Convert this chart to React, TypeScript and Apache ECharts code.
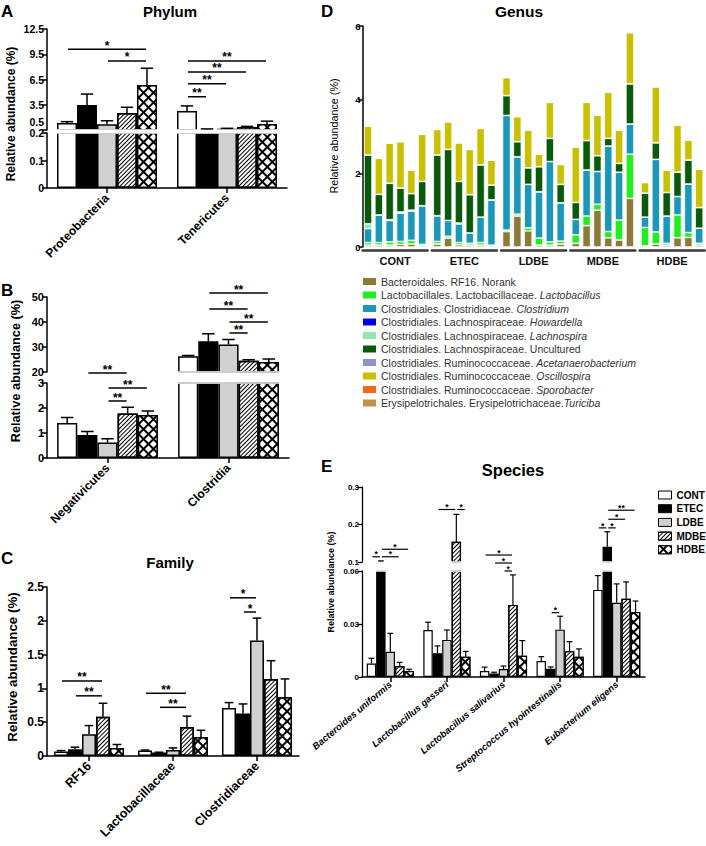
import React, { useEffect, useRef } from 'react';
import * as echarts from 'echarts';

const FONT = '"Liberation Sans", Arial, Helvetica, sans-serif';
const groups = ['CONT', 'ETEC', 'LDBE', 'MDBE', 'HDBE'];

// ---------- A: Phylum (rows = groups)
const phylumCats = ['Proteobacteria', 'Tenericutes'];
const phylumMean = [[1.33, 2.76], [3.47, 0.58], [1.17, 0.65], [2.52, 0.85], [5.84, 1.2]];
const phylumErr = [[0.16, 0.6], [1.3, 0.05], [0.43, 0.05], [0.68, 0.08], [2.0, 0.35]];
const phylumSig: any[] = [[0, 0, 4, 10.1, '*'], [0, 2, 4, 8.7, '*'], [1, 0, 4, 8.7, '**'], [1, 0, 3, 7.4, '**'], [1, 0, 2, 6.0, '**'], [1, 0, 1, 4.45, '**']];
const phylumTicksUp = [0.5, 3.5, 6.5, 9.5, 12.5];

// ---------- B: Class
const classCats = ['Negativicutes', 'Clostridia'];
const classMean = [[1.4, 26.3], [0.92, 32.3], [0.62, 31.0], [1.78, 24.5], [1.72, 24.0]];
const classErr = [[0.22, 0.3], [0.14, 3.0], [0.15, 2.0], [0.25, 0.4], [0.16, 1.2]];
const classSigLow: any[] = [[0, 1, 3, 3.4, '**'], [0, 2, 4, 2.8, '**'], [0, 2, 3, 2.28, '**']];
const classSigHigh: any[] = [[1, 1, 4, 51.6, '**'], [1, 1, 3, 45.2, '**'], [1, 2, 4, 40, '**'], [1, 2, 3, 35.6, '**']];

// ---------- C: Family
const familyCats = ['RF16', 'Lactobacillaceae', 'Clostridiaceae'];
const familyMean = [[0.065, 0.08, 0.71], [0.1, 0.05, 0.63], [0.32, 0.09, 1.71], [0.58, 0.43, 1.14], [0.12, 0.28, 0.87]];
const familyErr = [[0.015, 0.008, 0.08], [0.03, 0.006, 0.14], [0.13, 0.03, 0.33], [0.2, 0.16, 0.27], [0.05, 0.1, 0.27]];
const familySig: any[] = [[0, 0, 3, 1.11, '**'], [0, 1, 3, 0.89, '**'], [1, 0, 3, 0.93, '**'], [1, 1, 3, 0.72, '**'], [2, 0, 2, 2.34, '*'], [2, 1, 2, 2.13, '*']];

// ---------- D: Genus (30 samples, 6 per group)
const genusNames = [
  'Bacteroidales. RF16. Norank',
  'Lactobacillales. Lactobacillaceae. Lactobacillus',
  'Clostridiales. Clostridiaceae. Clostridium',
  'Clostridiales. Lachnospiraceae. Howardella',
  'Clostridiales. Lachnospiraceae. Lachnospira',
  'Clostridiales. Lachnospiraceae. Uncultured',
  'Clostridiales. Ruminococcaceae. Acetanaerobacterium',
  'Clostridiales. Ruminococcaceae. Oscillospira',
  'Clostridiales. Ruminococcaceae. Sporobacter',
  'Erysipelotrichales. Erysipelotrichaceae.Turiciba',
];
const genusColors = ['#8c7a38', '#1ef01e', '#1b97b8', '#0000ee', '#8fe8b2', '#0b5a0b', '#8c92cc', '#c8c000', '#ff6318', '#c0914f'];
const rf16Norank = [0.05, 0.05, 0.05, 0.07, 0.08, 0.03, 0.08, 0.24, 0.06, 0.05, 0.05, 0.03, 0.42, 0.84, 0.44, 0.05, 0.05, 0.08, 0.1, 0.58, 1.0, 0.25, 0.19, 1.32, 0.03, 0.08, 0.05, 0.25, 0.26, 0.05];
const lactobacillus = [0.07, 0.07, 0.09, 0.08, 0.1, 0.04, 0.07, 0.05, 0.06, 0.05, 0.07, 0.02, 0.04, 0.05, 0.08, 0.19, 0.09, 0.08, 0.23, 0.26, 0.16, 0.17, 0.54, 1.2, 0.5, 0.33, 0.05, 0.62, 0.13, 0.05];
const clostridium = [0.38, 0.75, 0.58, 0.77, 0.8, 1.05, 0.7, 0.43, 0.51, 0.28, 0.69, 1.23, 3.11, 1.56, 1.18, 1.26, 2.18, 1.04, 0.42, 1.25, 0.89, 2.32, 1.3, 0.82, 0.28, 1.97, 0.74, 0.5, 1.32, 0.41];
const howardella = [0, 0, 0, 0, 0, 0, 0, 0, 0, 0, 0, 0, 0, 0, 0, 0, 0, 0, 0, 0, 0, 0, 0, 0, 0, 0, 0, 0, 0, 0];
const lachnospira = [0.13, 0, 0.02, 0.03, 0.02, 0, 0, 0, 0.02, 0, 0, 0, 0, 0, 0, 0, 0, 0, 0, 0, 0, 0, 0, 0, 0, 0, 0, 0, 0, 0];
const lachnoUncultured = [1.87, 0.56, 0.99, 0.65, 0.45, 0.66, 1.65, 1.93, 1.13, 1.04, 1.42, 0.4, 0.54, 0.41, 0.45, 0.68, 0.63, 0.5, 0.46, 0.8, 0.43, 0.21, 0.24, 1.09, 0.65, 0.45, 0.64, 0.66, 0.65, 0.56];
const acetanaerobacterium = [0, 0, 0, 0, 0, 0, 0, 0, 0, 0, 0, 0, 0, 0, 0, 0, 0, 0, 0, 0, 0, 0, 0, 0, 0, 0, 0, 0, 0, 0];
const oscillospira = [0.78, 0.98, 1.09, 1.26, 0.64, 1.28, 0.69, 0.75, 1.05, 1.23, 0.99, 0.68, 0.49, 0.68, 1.03, 0.34, 0.98, 0.54, 1.51, 1.04, 1.1, 1.25, 0.91, 1.39, 0.29, 1.52, 0.61, 1.28, 0.54, 1.05];
const sporobacter = [0, 0, 0, 0, 0, 0, 0, 0, 0, 0, 0, 0, 0, 0, 0, 0, 0, 0, 0, 0, 0, 0, 0, 0, 0, 0, 0, 0, 0, 0];
const turiciba = [0, 0, 0, 0, 0, 0, 0, 0, 0, 0, 0, 0, 0, 0, 0, 0, 0, 0, 0, 0, 0, 0, 0, 0, 0, 0, 0, 0, 0, 0];
const genusData = [rf16Norank, lactobacillus, clostridium, howardella, lachnospira, lachnoUncultured, acetanaerobacterium, oscillospira, sporobacter, turiciba];
const genusTicks = [0, 2, 4, 6];

// ---------- E: Species
const speciesCats = ['Bacteroides uniformis', 'Lactobacillus gasseri', 'Lactobacillus salivarius', 'Streptococcus hyointestinalis', 'Eubacterium eligens'];
const speciesMean = [
  [0.0076, 0.0266, 0.0034, 0.009, 0.0493],
  [0.085, 0.0134, 0.002, 0.0046, 0.1406],
  [0.0143, 0.021, 0.0045, 0.0268, 0.042],
  [0.0062, 0.154, 0.0408, 0.0147, 0.0443],
  [0.0034, 0.0115, 0.012, 0.0115, 0.0368],
];
const speciesErr = [
  [0.003, 0.0044, 0.0022, 0.0025, 0.0081],
  [0.018, 0.0042, 0.0007, 0.0011, 0.04],
  [0.0104, 0.0056, 0.0017, 0.0076, 0.0107],
  [0.0021, 0.073, 0.017, 0.0053, 0.0095],
  [0.001, 0.003, 0.0086, 0.0044, 0.0062],
];
const speciesSigHigh: any[] = [
  [0, 0, 1, 0.114, '*'], [0, 1, 3, 0.114, '*'], [0, 1, 4, 0.134, '*'],
  [1, 1, 3, 0.24, '*'], [1, 3, 4, 0.24, '*'],
  [2, 0, 3, 0.1186, '*'], [2, 1, 3, 0.0973, '*'], [2, 2, 3, 0.076, '*'],
  [4, 1, 4, 0.238, '**'], [4, 1, 3, 0.214, '*'], [4, 0, 1, 0.191, '*'], [4, 1, 2, 0.191, '*'],
];
const speciesSigLow: any[] = [[3, 1, 2, 0.0364, '*']];

const GAP = 0.167;

function groupStyle(gi: number): any {
  if (gi === 0) return { color: '#ffffff' };
  if (gi === 1) return { color: '#000000' };
  if (gi === 2) return { color: '#d0d0d0' };
  if (gi === 3)
    return {
      color: '#ffffff',
      decal: { symbol: 'rect', symbolSize: 1, dashArrayX: [1, 0], dashArrayY: [1, 2], rotation: -Math.PI / 4, color: '#000000' },
    };
  return {
    color: '#000000',
    decal: { symbol: 'rect', symbolSize: 1, dashArrayX: [4.5, 1.6], dashArrayY: [4.5, 1.6], rotation: Math.PI / 4, color: '#ffffff' },
  };
}

function bars(xi: number, yi: number, means: number[][], bw: number) {
  return groups.map((g, gi) => ({
    type: 'bar',
    name: g,
    xAxisIndex: xi,
    yAxisIndex: yi,
    data: means[gi],
    barGap: '0%',
    barCategoryGap: '16.7%',
    clip: true,
    silent: true,
    itemStyle: { ...groupStyle(gi), borderColor: '#000', borderWidth: bw },
  }));
}

function errBars(xi: number, yi: number, means: number[][], errs: number[][], lw: number) {
  const data: number[][] = [];
  means.forEach((row, gi) => row.forEach((m, ci) => data.push([ci, m, gi, errs[gi][ci]])));
  return {
    type: 'custom',
    xAxisIndex: xi,
    yAxisIndex: yi,
    clip: true,
    silent: true,
    z: 5,
    data,
    encode: { x: 0, y: 1 },
    renderItem: (params: any, api: any) => {
      const ci = api.value(0);
      const m = api.value(1);
      const gi = api.value(2);
      const e = api.value(3);
      const band = api.size([1, 0])[0];
      const bw = (band * (1 - GAP)) / 5;
      const base = api.coord([ci, m]);
      const top = api.coord([ci, m + e]);
      const x = base[0] + (gi - 2) * bw;
      const cw = Math.max(5, bw * 0.62);
      const st = { stroke: '#000', lineWidth: lw };
      return {
        type: 'group',
        children: [
          { type: 'line', shape: { x1: x, y1: base[1], x2: x, y2: top[1] }, style: st },
          { type: 'line', shape: { x1: x - cw / 2, y1: top[1], x2: x + cw / 2, y2: top[1] }, style: st },
        ],
      };
    },
  };
}

function sigs(xi: number, yi: number, list: any[], fontSize: number, lw: number, rise: number) {
  return {
    type: 'custom',
    xAxisIndex: xi,
    yAxisIndex: yi,
    clip: false,
    silent: true,
    z: 6,
    data: list.map((s) => [s[0], s[3], s[1], s[2]]),
    encode: { x: 0, y: 1 },
    renderItem: (params: any, api: any) => {
      const s = list[params.dataIndex];
      const band = api.size([1, 0])[0];
      const bw = (band * (1 - GAP)) / 5;
      const p = api.coord([s[0], s[3]]);
      const x1 = p[0] + (s[1] - 2) * bw + 1;
      const x2 = p[0] + (s[2] - 2) * bw - 1;
      return {
        type: 'group',
        children: [
          { type: 'line', shape: { x1, y1: p[1], x2, y2: p[1] }, style: { stroke: '#000', lineWidth: lw } },
          {
            type: 'text',
            x: (x1 + x2) / 2,
            y: p[1] - rise,
            style: {
              text: s[4],
              fill: '#000',
              font: `bold ${fontSize}px ${FONT}`,
              align: 'center',
              verticalAlign: 'middle',
              textAlign: 'center',
              textVerticalAlign: 'middle',
            },
          },
        ],
      };
    },
  };
}

function yAxisBase(gi: number, min: number, max: number, fs: number, extra: any = {}) {
  return {
    gridIndex: gi,
    type: 'value',
    min,
    max,
    splitLine: { show: false },
    axisLine: { show: true, lineStyle: { color: '#000', width: 1.5 } },
    axisTick: { show: true, length: 5, lineStyle: { color: '#000', width: 1.5 } },
    axisLabel: { color: '#000', fontSize: fs, fontWeight: 'bold', fontFamily: FONT, margin: 3 },
    ...extra,
  };
}

function catAxis(gi: number, data: string[], show: boolean, labelOpts: any = {}) {
  return {
    gridIndex: gi,
    type: 'category',
    data,
    show,
    axisLine: { show: true, onZero: false, lineStyle: { color: '#000', width: 1.5 } },
    axisTick: { show: true, alignWithLabel: true, length: 5, lineStyle: { color: '#000', width: 1.5 } },
    axisLabel: { interval: 0, color: '#000', fontFamily: FONT, fontWeight: 'bold', ...labelOpts },
  };
}

function gtext(text: string, x: number, y: number, font: string, rot = 0, align = 'center') {
  return {
    type: 'text',
    x,
    y,
    rotation: rot,
    silent: true,
    z: 10,
    style: { text, x: 0, y: 0, font, fill: '#000', textAlign: align, textVerticalAlign: 'middle', align, verticalAlign: 'middle' },
  };
}

// white strips that hide the clipped bar edges at each axis break
function breakMask(x: number, y: number, w: number, h: number) {
  return { type: 'rect', z: 3, silent: true, shape: { x, y, width: w, height: h }, style: { fill: '#ffffff' } };
}

function buildOption(): any {
  const D_LEFT = 362.6;
  const D_STEP = 69.25;
  const grid: any[] = [
    { left: 47, top: 29, width: 240, height: 101 },
    { left: 47, top: 133, width: 240, height: 55 },
    { left: 47, top: 297, width: 242, height: 75 },
    { left: 47, top: 383, width: 242, height: 75 },
    { left: 47, top: 587, width: 252, height: 169 },
  ];
  for (let k = 0; k < 5; k++) grid.push({ left: D_LEFT + k * D_STEP, top: 26, width: 65, height: 221 });
  grid.push({ left: 362, top: 487, width: 283, height: 75 });
  grid.push({ left: 362, top: 571, width: 283, height: 106 });

  const catLabel = { rotate: 45, fontSize: 12, margin: 8 };
  const xAxis: any[] = [
    catAxis(0, phylumCats, false),
    catAxis(1, phylumCats, true, catLabel),
    catAxis(2, classCats, false),
    catAxis(3, classCats, true, catLabel),
    catAxis(4, familyCats, true, { rotate: 45, fontSize: 12.5, margin: 8 }),
  ];
  const yAxis: any[] = [
    yAxisBase(0, 0.5, 12.5, 10.5, {
      axisLabel: {
        color: '#000',
        fontSize: 10.5,
        fontWeight: 'bold',
        fontFamily: FONT,
        margin: 3,
        customValues: phylumTicksUp,
        formatter: (v: number) => (v === 0.5 ? '{s|0.5}' : String(v)),
        rich: { s: { fontSize: 10.5, fontWeight: 'bold', fontFamily: FONT, color: '#000', padding: [0, 0, 16, 0] } },
      },
      axisTick: { show: true, length: 5, lineStyle: { color: '#000', width: 1.5 }, customValues: phylumTicksUp },
    }),
    yAxisBase(1, 0, 0.2, 10.5, { interval: 0.1 }),
    yAxisBase(2, 20, 50, 11, { interval: 10 }),
    yAxisBase(3, 0, 3, 11, { interval: 1 }),
    yAxisBase(4, 0, 2.5, 12, { interval: 0.5 }),
  ];
  for (let k = 0; k < 5; k++) {
    xAxis.push({
      gridIndex: 5 + k,
      type: 'category',
      data: ['1', '2', '3', '4', '5', '6'],
      offset: 3,
      axisLine: { show: true, onZero: false, lineStyle: { color: '#3a3a3a', width: 2.5 } },
      axisTick: { show: false },
      axisLabel: { show: false },
      name: groups[k],
      nameLocation: 'middle',
      nameGap: 5,
      nameTextStyle: { color: '#111', fontSize: 11, fontWeight: 'bold', fontFamily: FONT, verticalAlign: 'top' },
    });
    if (k === 0) {
      yAxis.push(
        yAxisBase(5, 0, 6, 9.5, {
          axisLabel: { color: '#000', fontSize: 9.5, fontWeight: 'bold', fontFamily: FONT, margin: 2, customValues: genusTicks },
          axisTick: { show: true, length: 4, lineStyle: { color: '#000', width: 1.5 }, customValues: genusTicks },
        })
      );
    } else {
      yAxis.push({ gridIndex: 5 + k, type: 'value', min: 0, max: 6, show: false, splitLine: { show: false } });
    }
  }
  xAxis.push(catAxis(10, speciesCats, false));
  xAxis.push(catAxis(11, speciesCats, true, { rotate: 40, fontSize: 9.5, fontStyle: 'italic', margin: 6 }));
  yAxis.push(
    yAxisBase(10, 0.1, 0.3, 8, {
      interval: 0.1,
      axisLine: { show: true, lineStyle: { color: '#000', width: 1.3 } },
      axisTick: { show: true, length: 4, lineStyle: { color: '#000', width: 1.3 } },
    })
  );
  yAxis.push(
    yAxisBase(11, 0, 0.06, 8, {
      interval: 0.03,
      axisLine: { show: true, lineStyle: { color: '#000', width: 1.3 } },
      axisTick: { show: true, length: 4, lineStyle: { color: '#000', width: 1.3 } },
    })
  );

  const series: any[] = [];
  // A
  series.push(...bars(0, 0, phylumMean, 1.5), ...bars(1, 1, phylumMean, 1.5));
  series.push(errBars(0, 0, phylumMean, phylumErr, 1.5), errBars(1, 1, phylumMean, phylumErr, 1.5));
  series.push(sigs(0, 0, phylumSig, 12, 1.5, 3.5));
  // B
  series.push(...bars(2, 2, classMean, 1.5), ...bars(3, 3, classMean, 1.5));
  series.push(errBars(2, 2, classMean, classErr, 1.5), errBars(3, 3, classMean, classErr, 1.5));
  series.push(sigs(3, 3, classSigLow, 12, 1.5, 3.5), sigs(2, 2, classSigHigh, 12, 1.5, 3.5));
  // C
  series.push(...bars(4, 4, familyMean, 1.5));
  series.push(errBars(4, 4, familyMean, familyErr, 1.5));
  series.push(sigs(4, 4, familySig, 12, 1.5, 3.5));
  // D
  for (let k = 0; k < 5; k++) {
    genusNames.forEach((name, si) => {
      series.push({
        type: 'bar',
        name,
        xAxisIndex: 5 + k,
        yAxisIndex: 5 + k,
        stack: 'genus' + k,
        barWidth: 8,
        silent: true,
        data: genusData[si].slice(k * 6, k * 6 + 6),
        itemStyle: { color: genusColors[si], borderColor: '#ffffff', borderWidth: 0.7 },
      });
    });
  }
  // E
  series.push(...bars(10, 10, speciesMean, 1.2), ...bars(11, 11, speciesMean, 1.2));
  series.push(errBars(10, 10, speciesMean, speciesErr, 1.2), errBars(11, 11, speciesMean, speciesErr, 1.2));
  series.push(sigs(10, 10, speciesSigHigh, 8.5, 1.2, 2.3), sigs(11, 11, speciesSigLow, 8.5, 1.2, 2.3));

  const plainGenus = ['Norank', 'Uncultured'];
  const legendFormatter = (name: string) => {
    const m = name.match(/^(.*\.\s?)(\S+)$/);
    if (!m || plainGenus.includes(m[2])) return name;
    return m[1] + '{i|' + m[2] + '}';
  };

  return {
    animation: false,
    backgroundColor: '#ffffff',
    textStyle: { fontFamily: FONT },
    grid,
    xAxis,
    yAxis,
    series,
    legend: [
      {
        data: genusNames,
        orient: 'vertical',
        left: 363,
        top: 276,
        itemWidth: 13,
        itemHeight: 7,
        itemGap: 2.5,
        icon: 'rect',
        selectedMode: false,
        padding: 0,
        itemStyle: { borderWidth: 0 },
        formatter: legendFormatter,
        textStyle: {
          fontSize: 10.5,
          color: '#333',
          fontFamily: FONT,
          lineHeight: 11,
          rich: { i: { fontStyle: 'italic', fontSize: 10.5, color: '#333', fontFamily: FONT, lineHeight: 11 } },
        },
      },
      {
        data: groups,
        orient: 'vertical',
        left: 658,
        top: 490,
        itemWidth: 13,
        itemHeight: 8,
        itemGap: 3.7,
        itemStyle: { borderColor: '#000', borderWidth: 1 },
        icon: 'rect',
        selectedMode: false,
        padding: 0,
        textStyle: { fontSize: 10, fontWeight: 'bold', color: '#000', fontFamily: FONT, lineHeight: 10 },
      },
    ],
    graphic: [
      breakMask(48.3, 129.2, 242, 4.6),
      breakMask(48.3, 371.2, 244, 1.6),
      breakMask(48.3, 382.2, 244, 1.6),
      breakMask(363, 561.3, 284, 1.4),
      breakMask(363, 570.3, 284, 1.4),
      gtext('A', 1, 11, `bold 17px ${FONT}`, 0, 'left'),
      gtext('Phylum', 170, 11, `bold 15px ${FONT}`),
      gtext('Relative abundance (%)', 11, 114, `bold 12px ${FONT}`, Math.PI / 2),
      gtext('B', 1, 290, `bold 17px ${FONT}`, 0, 'left'),
      gtext('Relative abundance (%)', 16, 371, `bold 12.7px ${FONT}`, Math.PI / 2),
      gtext('C', 1, 558, `bold 17px ${FONT}`, 0, 'left'),
      gtext('Family', 170, 562, `bold 15px ${FONT}`),
      gtext('Relative abundance (%)', 12, 667, `bold 13.3px ${FONT}`, Math.PI / 2),
      gtext('D', 321, 11, `bold 17px ${FONT}`, 0, 'left'),
      gtext('Genus', 519, 11, `bold 15.5px ${FONT}`),
      gtext('Relative abundance (%)', 334, 136, `10.8px ${FONT}`, Math.PI / 2),
      gtext('E', 321, 466, `bold 17px ${FONT}`, 0, 'left'),
      gtext('Species', 513, 470, `bold 16.5px ${FONT}`),
      gtext('Relative abundance (%)', 331, 582, `bold 9px ${FONT}`, Math.PI / 2),
    ],
  };
}

export default function App() {
  const ref = useRef<HTMLDivElement>(null);
  useEffect(() => {
    document.body.style.margin = '0';
    const chart = echarts.init(ref.current as HTMLDivElement, null, { renderer: 'svg' });
    chart.setOption(buildOption());
    return () => chart.dispose();
  }, []);
  return (
    <div
      ref={ref}
      style={{ position: 'absolute', left: 0, top: 0, width: 706, height: 846, background: '#fff' }}
    />
  );
}
